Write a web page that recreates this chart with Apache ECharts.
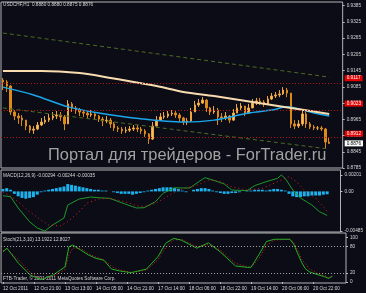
<!DOCTYPE html>
<html><head><meta charset="utf-8">
<script src="https://cdn.jsdelivr.net/npm/echarts@6/dist/echarts.min.js"></script>
<style>html,body{margin:0;padding:0;background:#0b0c16;overflow:hidden}#c{width:366px;height:293px}</style>
</head><body><div id="c"></div>
<script>
// ---------- data ----------
const slotCount = 89; // two-hour slots on the time axis (incl. right shift)
const dateIdx = [0,8,16,24,32,40,48,56,64,72,80];
const dateLabels = ["12 Oct 2011","12 Oct 21:00","13 Oct 13:00","14 Oct 05:00","14 Oct 21:00","17 Oct 14:00","18 Oct 06:00","18 Oct 22:00","19 Oct 14:00","20 Oct 06:00","20 Oct 22:00"];
const priceTicks = [0.9385,0.9325,0.9265,0.9205,0.9145,0.9085,0.9025,0.8965,0.8905,0.8845,0.8785];

const opens = [0.9110,0.9103,0.9088,0.8992,0.8977,0.8970,0.8962,0.8940,0.8925,0.8929,
0.8944,0.8955,0.8962,0.8970,0.8977,0.8981,0.8974,0.8948,0.9022,0.9007,
0.8999,0.8992,0.8988,0.8981,0.8985,0.8977,0.8966,0.8959,0.8962,0.8948,
0.8933,0.8929,0.8922,0.8925,0.8929,0.8933,0.8929,0.8922,0.8911,0.8892,
0.8940,0.8962,0.8974,0.8977,0.8985,0.8988,0.8981,0.8970,0.8955,0.8959,
0.8992,0.9018,0.9025,0.9036,0.9007,0.8992,0.8999,0.8974,0.8970,0.8977,
0.8962,0.8988,0.9007,0.9014,0.8988,0.9007,0.9025,0.9033,0.9029,0.9022,
0.9040,0.9051,0.9055,0.9059,0.9073,0.9062,0.8948,0.8940,0.8948,0.8985,
0.8948,0.8937,0.8933,0.8933,0.8929,0.8881];
const closes = [0.9103,0.9088,0.8992,0.8977,0.8970,0.8962,0.8940,0.8925,0.8929,0.8944,
0.8955,0.8962,0.8970,0.8977,0.8981,0.8974,0.8948,0.9022,0.9007,0.8999,
0.8992,0.8988,0.8981,0.8985,0.8977,0.8966,0.8959,0.8962,0.8948,0.8933,
0.8929,0.8922,0.8925,0.8929,0.8933,0.8929,0.8922,0.8911,0.8892,0.8940,
0.8962,0.8974,0.8977,0.8985,0.8988,0.8981,0.8970,0.8955,0.8959,0.8992,
0.9018,0.9025,0.9036,0.9007,0.8992,0.8999,0.8974,0.8970,0.8977,0.8962,
0.8988,0.9007,0.9014,0.8988,0.9007,0.9025,0.9033,0.9029,0.9022,0.9040,
0.9051,0.9055,0.9059,0.9073,0.9062,0.8948,0.8940,0.8948,0.8985,0.8948,
0.8937,0.8933,0.8933,0.8929,0.8881,0.8876];
const highs = [0.9118,0.9110,0.9092,0.8999,0.8988,0.8981,0.8962,0.8944,0.8940,0.8955,
0.8970,0.8977,0.8985,0.8992,0.8996,0.8992,0.8981,0.9036,0.9029,0.9014,
0.9007,0.8999,0.8996,0.8999,0.8992,0.8981,0.8974,0.8977,0.8970,0.8955,
0.8940,0.8937,0.8937,0.8940,0.8944,0.8944,0.8937,0.8929,0.8914,0.8955,
0.8977,0.8988,0.8992,0.8996,0.8999,0.8996,0.8988,0.8974,0.8970,0.9007,
0.9033,0.9040,0.9047,0.9040,0.9011,0.9014,0.9007,0.8988,0.8992,0.8981,
0.9003,0.9022,0.9025,0.9014,0.9022,0.9040,0.9044,0.9044,0.9036,0.9051,
0.9062,0.9066,0.9073,0.9084,0.9081,0.9062,0.8962,0.8962,0.9003,0.8992,
0.8955,0.8944,0.8940,0.8940,0.8933,0.8896];
const lows = [0.9073,0.9066,0.8981,0.8962,0.8948,0.8940,0.8925,0.8914,0.8911,0.8925,
0.8940,0.8948,0.8955,0.8962,0.8966,0.8959,0.8925,0.8948,0.8992,0.8985,
0.8977,0.8974,0.8970,0.8974,0.8966,0.8955,0.8940,0.8951,0.8933,0.8922,
0.8918,0.8911,0.8914,0.8918,0.8922,0.8918,0.8911,0.8900,0.8874,0.8889,
0.8940,0.8959,0.8966,0.8970,0.8977,0.8970,0.8955,0.8944,0.8944,0.8955,
0.8992,0.9011,0.9022,0.8992,0.8981,0.8985,0.8944,0.8955,0.8962,0.8951,
0.8959,0.8988,0.8999,0.8977,0.8985,0.9007,0.9018,0.9018,0.9011,0.9018,
0.9036,0.9044,0.9047,0.9055,0.9047,0.8933,0.8929,0.8933,0.8940,0.8933,
0.8929,0.8925,0.8925,0.8922,0.8859,0.8874];

const slowMaIdx = [0,10,20,28,40,47,55,65,75,85];
const slowMa = [0.9144,0.9144,0.9136,0.9118,0.9088,0.9066,0.9051,0.9029,0.9007,0.8985];
const fastMaIdx = [0,8,17,25,34,47,55,64,70,74,81,85];
const fastMa = [0.9084,0.9055,0.9011,0.8988,0.8970,0.8955,0.8962,0.8988,0.8999,0.9011,0.8988,0.8977];
const channelIdx = [0,85];
const channelUpper = [0.9284,0.9121];
const channelLower = [0.9007,0.8855];
const levelLines = [0.9117,0.9023,0.8912];
const lastPrice = [0.8876];

const macdHist = [0.0003,0.0004,0.0002,-0.0003,-0.0006,-0.0008,-0.0009,-0.0008,-0.0007,-0.0004,
-0.0001,0.0001,0.0002,0.0003,0.0004,0.0005,0.0006,0.0009,0.0008,0.0007,
0.0006,0.0005,0.0004,0.0003,0.0002,0.0002,0.0001,0.0001,0.0000,-0.0001,
-0.0002,-0.0003,-0.0003,-0.0003,-0.0004,-0.0003,-0.0002,-0.0001,0.0001,0.0002,
0.0003,0.0004,0.0005,0.0005,0.0005,0.0004,0.0003,0.0001,-0.0001,0.0000,
0.0002,0.0003,0.0004,0.0004,0.0003,0.0001,-0.0001,-0.0002,-0.0003,-0.0003,
-0.0002,-0.0002,-0.0001,0.0000,0.0001,0.0001,0.0002,0.0002,0.0002,0.0001,
0.0002,0.0003,0.0003,0.0002,0.0001,-0.0003,-0.0006,-0.0007,-0.0007,-0.0006,
-0.0006,-0.0005,-0.0005,-0.0005,-0.0004,-0.00035];
const macdIdx = [0,2,4,7,9,11,13,16,17,20,23,25,28,32,35,37,40,42,45,47,49,52,53,55,58,60,64,66,69,72,73,74,76,78,81,83,85];
const macdMain = [-0.00053,-0.00065,-0.00203,-0.00371,-0.00448,-0.00485,-0.00412,-0.00326,-0.00167,-0.00093,
-0.00069,-0.00077,-0.00085,-0.00154,-0.00203,-0.00200,-0.00126,-0.00023,0.00045,0.00042,
0.00042,0.00140,0.00168,0.00140,0.00091,0.00017,0.00009,0.00070,0.00119,0.00160,
0.00201,0.00160,0.00017,-0.00081,-0.00167,-0.00249,-0.00294];
const macdSigIdx = [0,2,4,7,10,12,15,17,20,22,25,28,32,35,37,40,43,46,51,54,57,60,64,68,72,75,77,79,82,85];
const macdSig = [-0.00007,-0.00056,-0.00126,-0.00249,-0.00350,-0.00412,-0.00424,-0.00371,-0.00249,-0.00146,
-0.00093,-0.00085,-0.00126,-0.00175,-0.00187,-0.00146,-0.00065,0.00017,0.00078,0.00140,
0.00119,0.00058,0.00017,0.00038,0.00119,0.00180,0.00119,0.00017,-0.00085,-0.00244];
const macdTicks = [0.00201,0,-0.00485];

const stochIdx = [0,1,4,7,9,10,13,16,17,18,20,22,24,26,28,30,33,34,37,40,42,44,46,50,53,56,60,63,64,66,68,70,74,75,76,77,78,79,81,83,84,85];
const stochMain = [68,76,42,16,8,6,16,34,79,83,72,61,53,49,29,25,21,23,29,57,87,98,94,76,88,68,36,33,33,61,91,96,96,85,65,45,30,23,17,12,8,13.1922];
const stochSigIdx = [0,1,4,7,9,10,13,16,17,18,20,22,24,26,28,30,33,34,37,40,42,44,46,50,53,56,60,63,64,66,68,70,74,75,76,77,79,81,83,84,85];
const stochSig = [70,74,50,22,11,8,13,28,60,76,76,64,56,50,35,27,22,22,27,50,78,94,96,79,84,72,42,34,33,52,82,94,96,90,72,52,30,20,14,10,12.8027];
const stochTicks = [100,80,20,0];
const stochLevels = [80,20];

// ---------- chart ----------
const FONT = '"Liberation Sans", Arial, sans-serif';
const FS = 4.7;
const TXT = '#d6d6d6';
const PMIN = 0.8785, PMAX = 0.93987;
const cats = Array.from({length: slotCount}, (_, i) => String(i));
const pairs = (idx, vals) => idx.map((i, k) => [i, vals[k]]);
const candles = opens.map((o, i) => [o, closes[i], lows[i], highs[i]]);

const gridBase = {left: 1, right: 20, show: true, borderColor: '#b4b4b4', borderWidth: 1, backgroundColor: 'transparent'};
const xBase = g => ({
  type: 'category', gridIndex: g, data: cats, boundaryGap: true,
  axisLine: {show: false}, axisTick: {show: false}, axisLabel: {show: false}, splitLine: {show: false}
});
const yLabel = (vals, fmt, extra) => Object.assign({
  show: true, customValues: vals, formatter: fmt, color: TXT, fontSize: FS, fontFamily: FONT, margin: 4,
  hideOverlap: false
}, extra || {});
const yTick = vals => ({show: true, customValues: vals, length: 2, lineStyle: {color: '#bbbbbb'}});

const xBottom = xBase(2);
xBottom.axisLabel = {
  show: true, interval: (i) => dateIdx.indexOf(i) >= 0,
  formatter: (v) => { const k = dateIdx.indexOf(Number(v)); return k >= 0 ? dateLabels[k] : ''; },
  align: 'left', margin: 3, color: TXT, fontSize: FS, fontFamily: FONT
};
xBottom.axisTick = {show: true, alignWithLabel: true, interval: (i) => dateIdx.indexOf(i) >= 0, length: 2, lineStyle: {color: '#bbbbbb'}};

const tagAxis = (vals, bg, fg) => ({
  type: 'value', gridIndex: 0, position: 'right', offset: 0, min: PMIN, max: PMAX,
  axisLine: {show: false}, splitLine: {show: false}, axisTick: {show: false},
  axisLabel: yLabel(vals, v => v.toFixed(4), {backgroundColor: bg, color: fg, margin: 2, padding: [1, 2, 0, 2]})
});

const option = {
  animation: false,
  backgroundColor: '#0b0c16',
  grid: [
    Object.assign({top: 2, height: 166}, gridBase),
    Object.assign({top: 170, height: 62}, gridBase),
    Object.assign({top: 233, height: 50}, gridBase)
  ],
  xAxis: [xBase(0), xBase(1), xBottom],
  yAxis: [
    {type: 'value', gridIndex: 0, position: 'right', min: PMIN, max: PMAX,
     axisLine: {show: false}, splitLine: {show: false},
     axisTick: yTick(priceTicks), axisLabel: yLabel(priceTicks, v => v.toFixed(4))},
    {type: 'value', gridIndex: 1, position: 'right', min: -0.00497, max: 0.00262,
     axisLine: {show: false}, splitLine: {show: false},
     axisTick: yTick(macdTicks), axisLabel: yLabel(macdTicks, v => Math.abs(v) < 1e-9 ? '0.00' : v.toFixed(5))},
    {type: 'value', gridIndex: 2, position: 'right', min: -2.2, max: 110,
     axisLine: {show: false}, splitLine: {show: false},
     axisTick: yTick(stochTicks), axisLabel: yLabel(stochTicks, v => String(v))},
    tagAxis(levelLines, '#e00000', '#ffffff'),
    tagAxis(lastPrice, '#ffffff', '#000000')
  ],
  series: [
    {type: 'line', xAxisIndex: 0, yAxisIndex: 0, data: pairs(channelIdx, channelUpper), symbol: 'none',
     lineStyle: {color: '#4e6b22', width: 1, type: [4, 3]}, silent: true},
    {type: 'line', xAxisIndex: 0, yAxisIndex: 0, data: pairs(channelIdx, channelLower), symbol: 'none',
     lineStyle: {color: '#4e6b22', width: 1, type: [4, 3]}, silent: true,
     markLine: {
       silent: true, symbol: ['none', 'none'], label: {show: false},
       lineStyle: {color: '#b81010', type: [1, 2], width: 1},
       data: levelLines.map(v => ({yAxis: v}))
     }},
    {type: 'candlestick', xAxisIndex: 0, yAxisIndex: 0, data: candles, barWidth: 2,
     itemStyle: {color: '#f5c064', color0: '#e08c1c', borderColor: '#eea640', borderColor0: '#db8a1a', borderWidth: 1}},
    {type: 'line', xAxisIndex: 0, yAxisIndex: 0, data: pairs(fastMaIdx, fastMa), symbol: 'none', smooth: 0.3,
     lineStyle: {color: '#1aa6ea', width: 1.5}, silent: true},
    {type: 'line', xAxisIndex: 0, yAxisIndex: 0, data: pairs(slowMaIdx, slowMa), symbol: 'none', smooth: 0.3,
     lineStyle: {color: '#f8dcb0', width: 2}, silent: true},

    {type: 'bar', xAxisIndex: 1, yAxisIndex: 1, data: macdHist, barWidth: 3,
     itemStyle: {color: '#1cb2ee'}, silent: true},
    {type: 'line', xAxisIndex: 1, yAxisIndex: 1, data: pairs(macdIdx, macdMain), symbol: 'none',
     lineStyle: {color: '#1f9a2a', width: 1}, silent: true},
    {type: 'line', xAxisIndex: 1, yAxisIndex: 1, data: pairs(macdSigIdx, macdSig), symbol: 'none',
     lineStyle: {color: '#e02020', width: 1, type: [1, 3]}, silent: true},

    {type: 'line', xAxisIndex: 2, yAxisIndex: 2, data: pairs(stochSigIdx, stochSig), symbol: 'none',
     lineStyle: {color: '#e02020', width: 1, type: [1, 2]}, silent: true,
     markLine: {silent: true, symbol: ['none', 'none'], label: {show: false},
       lineStyle: {color: '#a8a8a8', type: [1, 2], width: 1},
       data: stochLevels.map(v => ({yAxis: v}))}},
    {type: 'line', xAxisIndex: 2, yAxisIndex: 2, data: pairs(stochIdx, stochMain), symbol: 'none',
     lineStyle: {color: '#22b022', width: 1}, silent: true}
  ],
  graphic: [
    {type: 'text', left: 48, top: 147, silent: true, z: 1,
     style: {text: 'Портал для трейдеров - ForTrader.ru', fill: '#a2a2a2', font: '16.4px ' + FONT}},
    {type: 'text', left: 3, top: 2.5, silent: true,
     style: {text: 'USDCHF,H1  0.8880 0.8880 0.8875 0.8876', fill: TXT, font: FS + 'px ' + FONT}},
    {type: 'text', left: 3, top: 173.5, silent: true,
     style: {text: 'MACD(12,26,9) -0.00294 -0.00244 -0.00035', fill: TXT, font: FS + 'px ' + FONT}},
    {type: 'text', left: 3, top: 237.5, silent: true,
     style: {text: 'Stoch(21,3,10) 13.1922 12.8027', fill: TXT, font: FS + 'px ' + FONT}},
    {type: 'text', left: 3, top: 276.5, silent: true,
     style: {text: 'FTB-Trader, © 2001-2011 MetaQuotes Software Corp.', fill: TXT, font: FS + 'px ' + FONT}}
  ]
};
const chart = echarts.init(document.getElementById('c'), null, {renderer: 'canvas'});
chart.setOption(option);
</script>
</body></html>
